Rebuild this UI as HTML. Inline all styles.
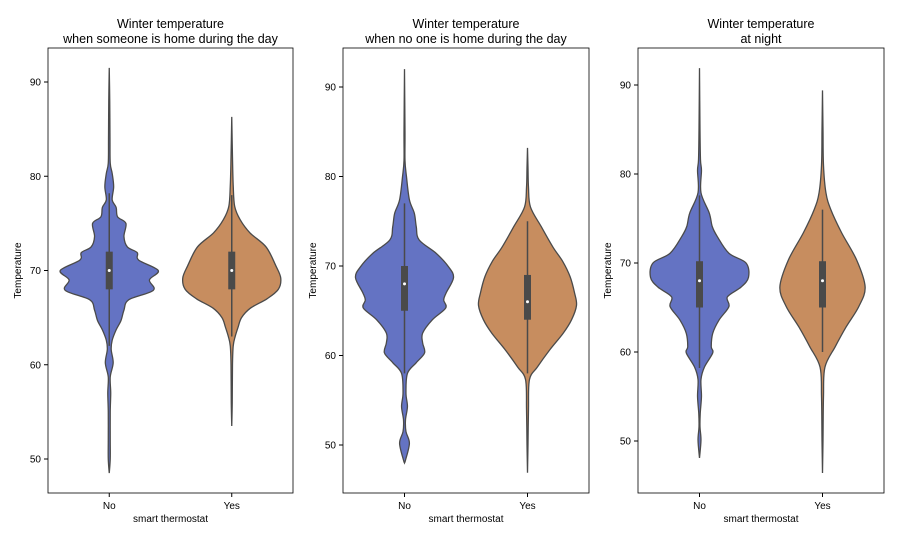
<!DOCTYPE html>
<html><head><meta charset="utf-8"><style>
body{margin:0;background:#fff;font-family:"Liberation Sans",sans-serif}
svg text{font-family:"Liberation Sans",sans-serif;fill:#000}
</style></head><body>
<svg id="chart" width="899" height="539"></svg>
<script>
const titles=[["Winter temperature","when someone is home during the day"],["Winter temperature","when no one is home during the day"],["Winter temperature","at night"]];
const categories=["No","Yes"];
const yTicks=[50,60,70,80,90];
// density profiles: temps and relative half-widths
const p1NoT=[48.5,50,52,55,57,58.7,60.2,61.6,62.6,63.7,64.7,65.8,66.9,67.9,69,70,71.1,71.9,72.5,73.6,75,75.7,76.7,77.5,78.9,80.3,81.4,84,88,91.5];
const p1NoD=[0,0.02,0.02,0.02,0.03,0.02,0.08,0.04,0.06,0.14,0.24,0.3,0.4,0.9,0.82,1.0,0.6,0.57,0.37,0.3,0.34,0.17,0.14,0.06,0.09,0.06,0.02,0.015,0.01,0];
const p1YesT=[53.5,56,60,62,63,64,65,66,67,68,69.2,70.5,72.5,74,75.4,76.8,79,82,86.3];
const p1YesD=[0,0.01,0.015,0.03,0.07,0.13,0.2,0.38,0.72,0.95,1.0,0.9,0.7,0.37,0.17,0.06,0.03,0.015,0];
const p2NoT=[48,48.3,50.2,51.5,52.8,54.3,55.8,58,59.2,60.3,61.4,62.5,64,65.3,66.2,67,68.7,69.9,71.4,72.9,74.4,75.9,77.4,80,81.8,85,92];
const p2NoD=[0,0.02,0.1,0.03,0.02,0.06,0.03,0.06,0.24,0.41,0.37,0.37,0.57,0.84,0.8,0.85,1.0,0.9,0.65,0.3,0.24,0.2,0.1,0.04,0.01,0.01,0];
const p2YesT=[46.9,50,54,57.3,58.7,60.6,62.5,64,65.6,67,68.8,70.5,72.1,74.4,76.6,78.8,81,83.2];
const p2YesD=[0,0.01,0.02,0.04,0.2,0.45,0.73,0.9,1.0,0.96,0.87,0.72,0.52,0.28,0.06,0.02,0.01,0];
const p3NoT=[48.1,50.1,51.6,53.1,55,56.9,58.3,59.9,60.6,62.1,63.6,65.1,66.2,67.3,68.4,70,71.1,73,74.1,75.6,77.9,80.4,81.6,85,91.9];
const p3NoD=[0,0.03,0.01,0.015,0.04,0.03,0.1,0.27,0.24,0.27,0.4,0.6,0.57,0.85,1.0,0.95,0.6,0.36,0.26,0.2,0.03,0.04,0.02,0.01,0];
const p3YesT=[46.4,50,55,58.3,60.6,62.8,65.1,67.3,70.3,73.4,76,77.9,81,85,89.4];
const p3YesD=[0,0.01,0.02,0.05,0.26,0.48,0.74,0.87,0.7,0.39,0.17,0.07,0.02,0.01,0];
// box stats: [whiskerLo, q1, median, q3, whiskerHi]
const boxStats=[[[62,68,70,72,78.2],[63,68,70,72,78]],[[58,65,68,70,77],[58,64,66,69,75]],[[58.2,65,68,70.2,77.6],[60,65,68,70.2,76]]];
const profiles=[[[p1NoT,p1NoD],[p1YesT,p1YesD]],[[p2NoT,p2NoD],[p2YesT,p2YesD]],[[p3NoT,p3NoD],[p3YesT,p3YesD]]];

const NS="http://www.w3.org/2000/svg";
const svg=document.getElementById('chart');
function mk(tag,attrs,parent){const e=document.createElementNS(NS,tag);for(const k in attrs)e.setAttribute(k,attrs[k]);(parent||svg).appendChild(e);return e;}
const panels=[{x0:48,x1:293,y0:48,y1:493,v50:459,v90:82},{x0:343,x1:589,y0:48,y1:493,v50:445,v90:87},{x0:638,x1:884,y0:48,y1:493,v50:441,v90:85}];
const colors=["#6473c3","#c78d5f"];
const HALF=49;
function smoothPath(pts){let d="M"+pts[0][0]+","+pts[0][1];for(let i=0;i<pts.length-1;i++){const p0=pts[i-1]||pts[i],p1=pts[i],p2=pts[i+1],p3=pts[i+2]||p2;const c1=[p1[0]+(p2[0]-p0[0])/6,p1[1]+(p2[1]-p0[1])/6],c2=[p2[0]-(p3[0]-p1[0])/6,p2[1]-(p3[1]-p1[1])/6];d+="C"+c1+" "+c2+" "+p2;}return d;}
panels.forEach((P,pi)=>{
  const g=mk('g',{});
  
  
  const y=v=>P.v50+(v-50)*(P.v90-P.v50)/40;
  const band=(P.x1-P.x0)/2;
  const x=i=>P.x0+band*(i+0.5);
  const cx=(P.x0+P.x1)/2;
  const t=mk('text',{x:cx,y:28,'text-anchor':'middle','font-size':12.5},g);
  
  
  titles[pi].forEach((s,k)=>{const ts=mk('tspan',{x:cx,dy:k?15:0},t);ts.textContent=s;});
  categories.forEach((c,ci)=>{
    const [T,D]=profiles[pi][ci];const X=x(ci);
    const right=T.map((v,k)=>[X+D[k]*HALF,y(v)]);
    const left=T.map((v,k)=>[X-D[k]*HALF,y(v)]).reverse();
    const d=smoothPath(right)+smoothPath(left).replace(/^M/,"L")+"Z";
    const vp=mk('path',{d:d,fill:colors[ci],stroke:'#4a4a4a','stroke-width':1.3},g);
    
    
    const b=boxStats[pi][ci];
    const wl=mk('line',{x1:X,x2:X,y1:y(b[0]),y2:y(b[4]),stroke:'#4a4a4a','stroke-width':1.5},g);
    
    
    const br=mk('rect',{x:X-3.5,y:y(b[3]),width:7,height:y(b[1])-y(b[3]),fill:'#4a4a4a'},g);
    
    
    const md=mk('circle',{cx:X,cy:y(b[2]),r:1.5,fill:'#fff'},g);
    
    
    mk('line',{x1:X,x2:X,y1:P.y1,y2:P.y1+4,stroke:'#000'},g);
    const xl=mk('text',{x:X,y:P.y1+16,'text-anchor':'middle','font-size':10},g);
    xl.textContent=c;
    
    
  });
  yTicks.forEach(v=>{
    mk('line',{x1:P.x0-4,x2:P.x0,y1:y(v),y2:y(v),stroke:'#000'},g);
    const tl=mk('text',{x:P.x0-7,y:y(v)+3.5,'text-anchor':'end','font-size':10},g);
    tl.textContent=v;
    
    
  });
  const fr=mk('rect',{x:P.x0,y:P.y0,width:P.x1-P.x0,height:P.y1-P.y0,fill:'none',stroke:'#000','stroke-width':0.8},g);
  
  
  const xt=mk('text',{x:cx,y:522,'text-anchor':'middle','font-size':10},g);
  xt.textContent='smart thermostat';
  
  
  const yx=P.x0-27,yy=(P.y0+P.y1)/2;
  const yt=mk('text',{x:yx,y:yy,'text-anchor':'middle','font-size':10,transform:`rotate(-90 ${yx} ${yy})`},g);
  yt.textContent='Temperature';
  
  
});
</script>
</body></html>
